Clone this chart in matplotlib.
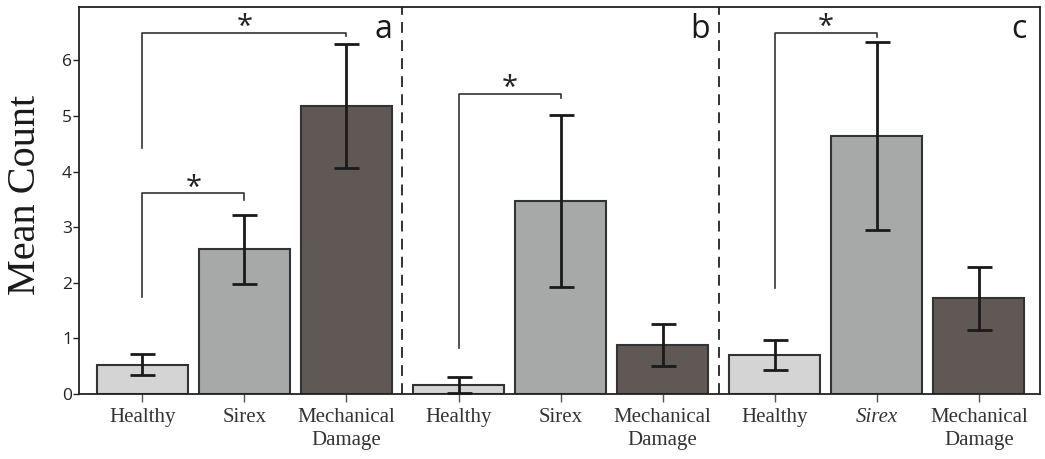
import matplotlib
matplotlib.use("Agg")
import matplotlib.pyplot as plt

# data
categories = ["Healthy", "Sirex", "Mechanical\nDamage"] * 3
positions = [0, 1, 2, 3.1, 4.1, 5.1, 6.2, 7.2, 8.2]
means = [0.53, 2.60, 5.18, 0.16, 3.47, 0.88, 0.70, 4.64, 1.72]
errors = [0.19, 0.62, 1.12, 0.15, 1.55, 0.37, 0.27, 1.69, 0.57]
panel_labels = ["a", "b", "c"]
# brackets: left bar, right bar, left foot, right foot, top
brackets = [(0, 2, 4.43, 6.43, 6.49),
            (0, 1, 1.74, 3.49, 3.61),
            (3, 4, 0.83, 5.32, 5.40),
            (6, 7, 1.90, 6.42, 6.49)]

colors = ["#d4d4d4", "#a7a9a9", "#5f5854"] * 3

fig = plt.figure(figsize=(10.45, 4.59), dpi=100)
ax = fig.add_axes([79/1045, 1-394/459, 961/1045, 387/459])

ax.bar(positions, means, width=0.89, color=colors, edgecolor="#333333", linewidth=1.5, zorder=2)
ax.errorbar(positions, means, yerr=errors, fmt="none", ecolor="#1a1a1a",
            elinewidth=2, capsize=9, capthick=2, zorder=3)

# dashed separators between panels
for x in [2.55, 5.65]:
    ax.axvline(x, color="#222222", linestyle=(0, (6, 4)), linewidth=1.3, zorder=1)

# panel letters
for x, lab in zip([2.45, 5.56, 8.67], panel_labels):
    ax.text(x, 6.55, lab, ha="right", va="center", fontsize=23,
            family="Open Sans", color="#1a1a1a")

# significance brackets
for i, j, yl, yr, top in brackets:
    xl, xr = positions[i], positions[j]
    ax.plot([xl, xl, xr, xr], [yl, top, top, yr], color="#333333", linewidth=1.2, zorder=4)
    ax.text((xl + xr) / 2, top - 0.04, "*", ha="center", va="baseline", fontsize=21,
            family="Open Sans", color="#222222")

ax.set_xlim(-0.62, 8.8)
ax.set_ylim(0.05, 6.96)
ax.set_yticks(range(7))
ax.set_xticks(positions)
ax.set_xticklabels(categories, family="Liberation Serif", fontsize=15, color="#333333",
                   linespacing=1.3)
ax.get_xticklabels()[7].set_style("italic")
for t in ax.get_yticklabels():
    t.set_family("Open Sans")
    t.set_fontsize(12.5)
    t.set_color("#222222")
ax.tick_params(axis="y", length=4, width=1, pad=1, color="#222222")
ax.tick_params(axis="x", length=6, width=1, pad=4, color="#555555")
for s in ax.spines.values():
    s.set_linewidth(1.3)
    s.set_color("#222222")

fig.text(26/1045, 1-195/459, "Mean Count", rotation=90, ha="center", va="center",
         family="Liberation Serif", fontsize=29, color="#1a1a1a")

fig.savefig("out.png", dpi=100)
